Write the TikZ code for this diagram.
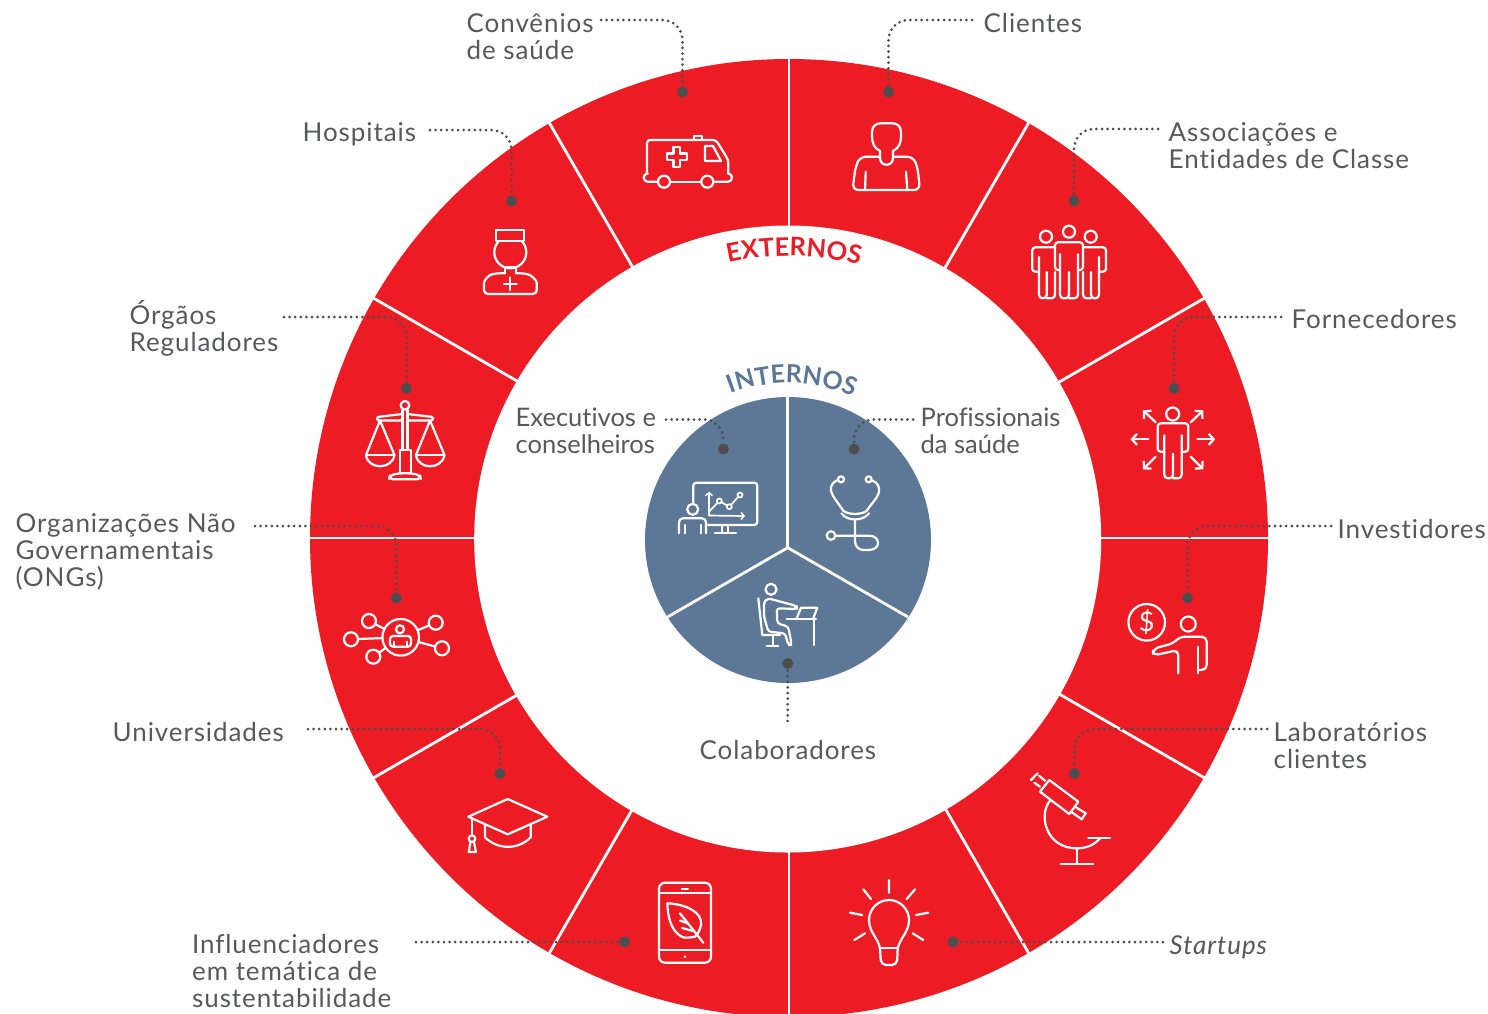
\documentclass[tikz,border=0pt]{standalone}
\usepackage{fontspec}
\setmainfont{Lato}[LetterSpace=3.5,Ligatures={NoCommon}]
\newfontfamily\tightfont{Lato}[Ligatures={NoCommon}]
\newfontfamily\curvefont{Lato}[LetterSpace=3]
\usetikzlibrary{arrows.meta,decorations.text}
\definecolor{ringred}{HTML}{ED1C24}
\definecolor{innerblue}{HTML}{5D7896}
\definecolor{labelgray}{HTML}{58595B}
\definecolor{dotgray}{HTML}{4D4D4F}
\tikzset{
  ico/.style={draw=white,line width=2.2pt,line join=round,line cap=round},
  icr/.style={ico,fill=ringred},
  icb/.style={ico,fill=innerblue},
  spoke/.style={draw=white,line width=2.8pt},
  lab/.style={anchor=base west,inner sep=0pt,align=left,text=labelgray,font=\fontsize{26}{26.8}\selectfont},
  labt/.style={lab,font=\tightfont\fontsize{25.5}{26.8}\selectfont},
  enddot/.style={circle,fill=dotgray,minimum size=11pt,inner sep=0pt},
  conn/.style={draw=dotgray,line width=3pt,line cap=round,dash pattern=on 0pt off 5.6pt,rounded corners=20pt},
  arw/.style={ico,-{Straight Barb[length=5pt,width=11pt,line width=2.2pt]}}
}
% person: cx, top, half width, leg half width, arm bottom, leg bottom
\newcommand\personshape[6]{
  \draw[ico,rounded corners=3pt] ({#1-#4},{#5}) -- ({#1-#3},{#5}) -- ({#1-#3},{#2}) -- ({#1+#3},{#2}) -- ({#1+#3},{#5}) -- ({#1+#4},{#5});
  \draw[ico,rounded corners=3.5pt] ({#1-#4},{#2+12}) -- ({#1-#4},{#6}) -- (#1,{#6}) -- (#1,{#5+2});
  \draw[ico,rounded corners=3.5pt] ({#1+#4},{#2+12}) -- ({#1+#4},{#6}) -- (#1,{#6});
}
\begin{document}
\begin{tikzpicture}[x=1pt,y=-1pt]
\clip (0,0) rectangle (1488,1013);
\fill[white] (0,0) rectangle (1488,1013);
% ring
\fill[ringred] (789,538) circle[radius=479pt];
\fill[white] (787.7,539) circle[radius=313.5pt];
\foreach \a in {0,30,...,330}
  \draw[spoke] ({789+310*cos(\a)},{538-310*sin(\a)}) -- ({789+481*cos(\a)},{538-481*sin(\a)});
% inner disc
\fill[innerblue] (788,540) circle[radius=143pt];
\draw[spoke] (787.7,547.7) -- (787.7,395.5);
\draw[spoke] (787.7,547.7) -- (667.5,617);
\draw[spoke] (787.7,547.7) -- (908,617);
% curved titles
\path[decorate,decoration={text along path,text align=center,text={|\curvefont\bfseries\fontsize{25.5}{26}\selectfont\color{ringred}|EXTERNOS}}]
  plot[domain=115:63,samples=30,smooth] ({789+282*cos(\x)},{538-282*sin(\x)});
\path[decorate,decoration={text along path,text align=center,text={|\curvefont\bfseries\fontsize{25}{26}\selectfont\color{innerblue}|INTERNOS}}]
  plot[domain=135:42,samples=30,smooth] ({788+157*cos(\x)},{540-157*sin(\x)});
% labels (anchored at the baseline of the last line)
\node[lab] (convenios) at (466.5,59) {Convênios\\de saúde};
\node[lab] (clientes) at (983.5,32) {Clientes};
\node[lab] (hospitais) at (302.5,141) {Hospitais};
\node[lab] (associacoes) at (1168.5,168) {Associações e\\Entidades de Classe};
\node[lab] (orgaos) at (129.5,351) {Órgãos\\Reguladores};
\node[lab] (fornecedores) at (1291.5,328) {Fornecedores};
\node[lab] (ongs) at (15.5,586) {Organizações Não\\Governamentais\\(ONGs)};
\node[lab] (investidores) at (1337.5,538) {Investidores};
\node[lab] (universidades) at (112.5,741) {Universidades};
\node[lab] (laboratorios) at (1273.5,768) {Laboratórios\\clientes};
\node[lab] (influenciadores) at (192,1007) {Influenciadores\\em temática de\\sustentabilidade};
\node[lab] (startups) at (1169.5,954) {\itshape Startups};
\node[lab] (colaboradores) at (699.5,759) {Colaboradores};
\node[labt] (executivos) at (515.5,453) {Executivos e\\conselheiros};
\node[labt] (profissionais) at (920.5,453) {Profissionais\\da saúde};
% dots
\node[enddot] (d1) at (682.5,92) {};
\node[enddot] (d2) at (888.5,92) {};
\node[enddot] (d3) at (511.5,201) {};
\node[enddot] (d4) at (1074,201) {};
\node[enddot] (d5) at (406.5,388.5) {};
\node[enddot] (d6) at (1174,388.5) {};
\node[enddot] (d7) at (396.5,598) {};
\node[enddot] (d8) at (1187.5,598) {};
\node[enddot] (d9) at (500,773.5) {};
\node[enddot] (d10) at (1074.5,773.5) {};
\node[enddot] (d11) at (624.5,942) {};
\node[enddot] (d12) at (953,942) {};
\node[enddot] (d13) at (723.5,449) {};
\node[enddot] (d14) at (854,449) {};
\node[enddot] (d15) at (787.7,663.5) {};
% free ends
\coordinate (c1) at (601,20);
\coordinate (c2) at (972,20);
\coordinate (c3) at (430,130);
\coordinate (c4) at (1158,129);
\coordinate (c5) at (284,317);
\coordinate (c6) at (1281,317);
\coordinate (c7) at (255,526);
\coordinate (c8) at (1331,526);
\coordinate (c9) at (308,729);
\coordinate (c10) at (1267,729);
\coordinate (c11) at (416,942);
\coordinate (c12) at (1163,942);
\coordinate (c13) at (666,419.5);
\coordinate (c14) at (913,419.5);
\coordinate (c15) at (787.7,721);
\foreach \i in {1,...,10} \draw[conn] (c\i) -| (d\i);
\draw[conn] (c11) -- (d11);
\draw[conn] (c12) -- (d12);
\draw[conn] (c13) -| (d13);
\draw[conn] (c14) -| (d14);
\draw[conn] (c15) -- (d15);
% --- ambulance
\draw[ico,rounded corners=3pt] (647,173.5) -- (647,140) -- (716,140) -- (728.3,160) -- (728.3,173.5);
\draw[ico,rounded corners=4pt] (658,181.7) -- (643.7,181.7) -- (643.7,173.5) -- (647,173.5);
\draw[ico,rounded corners=4pt] (670,181.7) -- (701.3,181.7);
\draw[ico,rounded corners=4pt] (713.3,181.7) -- (732,181.7) -- (732,173.5) -- (728.3,173.5);
\draw[ico] (664,181.7) circle[radius=6pt];
\draw[ico] (707.3,181.7) circle[radius=6pt];
\draw[ico] (694,140) -- (694,136) -- (702,136) -- (702,140);
\draw[ico] (705,146) -- (713,146) -- (721,161) -- (705,161) -- cycle;
\draw[ico] (673.4,146.7) -- (680,146.7) -- (680,153.4) -- (686.7,153.4) -- (686.7,160) -- (680,160) -- (680,166.7) -- (673.4,166.7) -- (673.4,160) -- (666.7,160) -- (666.7,153.4) -- (673.4,153.4) -- cycle;
% --- client
\draw[ico] (880,151) .. controls (874,148) and (872,143) .. (872,136) -- (872,132) .. controls (872,126) and (876,123.3) .. (881,123.3) -- (892,123.3) .. controls (897,123.3) and (901,126) .. (901,132) -- (901,136) .. controls (901,143) and (899,148) .. (893,151);
\draw[ico] (880,151) -- (880,158) .. controls (880,167) and (893,167) .. (893,158) -- (893,151);
\draw[ico,rounded corners=6pt] (880,156.7) -- (860,156.7) -- (855.5,167) -- (852.5,190) -- (920,190) -- (917.5,167) -- (913,156.7) -- (893,156.7);
\draw[ico] (865.7,171.7) -- (865,190);
\draw[ico] (906,171.7) -- (907.3,190);
% --- nurse
\draw[ico] (510.3,252.3) circle[radius=16pt];
\draw[icr] (495.7,230) rectangle (524.3,240.7);
\draw[ico] (505,267) -- (505,273.3) (515.7,267) -- (515.7,273.3) (505,267.5) -- (515.7,267.5);
\draw[ico,rounded corners=4pt] (505,273.3) -- (496,273.3) .. controls (489,275) and (484,280) .. (484,287) -- (484,294) -- (536.7,294) -- (536.7,287) .. controls (536.7,280) and (531,275) .. (524,273.3) -- (515.7,273.3);
\draw[ico] (510.3,277.5) -- (510.3,290) (504,284) -- (516.7,284);
% --- scales
\draw[ico] (405,405.3) circle[radius=4.3pt];
\draw[ico] (402.5,410) -- (402.5,450) (407.5,410) -- (407.5,450);
\draw[ico] (400,450) rectangle (410.7,473.3);
\draw[ico,rounded corners=4pt] (399.5,473.3) -- (410.7,473.3) -- (420,475) -- (421,479.3) -- (389,479.3) -- (390,475) -- cycle;
\draw[ico,rounded corners=1.5pt] (402.5,414) -- (377,417) -- (377,420.5) -- (402.5,420.5);
\draw[ico,rounded corners=1.5pt] (407.5,414) -- (433,417) -- (433,420.5) -- (407.5,420.5);
\draw[ico] (380,420.5) -- (366,455) .. controls (368,470) and (392,470) .. (394.5,455) -- (380,420.5);
\draw[ico] (366.5,455) -- (394,455);
\draw[ico] (430,420.5) -- (416,455) .. controls (418,470) and (442,470) .. (444.5,455) -- (430,420.5);
\draw[ico] (416.5,455) -- (444,455);
% --- group of three
\draw[ico] (1069,231.7) circle[radius=6pt];
\draw[ico] (1046,236.7) circle[radius=6pt];
\draw[ico] (1090.7,236.7) circle[radius=6pt];
\draw[ico,rounded corners=3pt] (1055,247.3) -- (1032.3,247.3) -- (1032.3,271.7) -- (1039,271.7);
\draw[ico,rounded corners=3.5pt] (1039,257) -- (1039,298.3) -- (1046.7,298.3) -- (1046.7,272);
\draw[ico,rounded corners=3.5pt] (1055,272) -- (1055,298.3) -- (1046.7,298.3);
\draw[ico,rounded corners=3pt] (1083,247.3) -- (1106,247.3) -- (1106,271.7) -- (1099,271.7);
\draw[ico,rounded corners=3.5pt] (1099,257) -- (1099,298.3) -- (1091,298.3) -- (1091,272);
\draw[ico,rounded corners=3.5pt] (1083,272) -- (1083,298.3) -- (1091,298.3);
\personshape{1069}{242.3}{14}{9}{270}{298.3}
% --- supplier
\draw[ico] (1172.7,414) circle[radius=6.5pt];
\personshape{1173}{423.3}{15.3}{8.7}{451.7}{478.3}
\draw[arw] (1148.3,439.3) -- (1130.5,439.3);
\draw[arw] (1197.3,439.3) -- (1215.2,439.3);
\draw[arw] (1155.7,422.3) -- (1143,410.3);
\draw[arw] (1190.7,422.3) -- (1203.3,410.3);
\draw[arw] (1155.7,456.7) -- (1143,469.3);
\draw[arw] (1190.7,456.7) -- (1203.3,469.3);
% --- investor
\draw[ico] (1146.7,622.3) circle[radius=18.3pt];
\node[inner sep=0pt,text=white,font=\tightfont\fontsize{27}{27}\selectfont] (dollar) at (1146.7,622.3) {\$};
\draw[ico] (1188.3,624) circle[radius=7.5pt];
\draw[ico,rounded corners=5pt] (1178.3,673.3) -- (1178.3,650) -- (1153,655.5) -- (1153,648.8) -- (1173.3,643.3) -- (1180,636.7) -- (1206.7,636.7) -- (1206.7,670) -- (1198.3,670);
\draw[ico] (1198.3,646.7) -- (1198.3,673.3);
% --- microscope
\draw[ico] (1049.3,780) -- (1078.3,801.7) -- (1069.3,814) -- (1040,791.7) -- cycle;
\draw[ico] (1031,780) -- (1037.5,773.3);
\draw[ico] (1039,775.7) -- (1045,780.7) (1034.3,782.7) -- (1040,786.7);
\draw[ico] (1075,806.7) -- (1085.7,813.3) -- (1081.7,819.3) -- (1071,811.7);
\draw[ico] (1050,800.7) .. controls (1038,815) and (1046,848.3) .. (1076.7,848.3) .. controls (1088,848.3) and (1095,844) .. (1100,838.3);
\draw[ico] (1088.3,838) -- (1110,838);
\draw[ico] (1076.7,848.3) -- (1076.7,864);
\draw[ico] (1060.7,864) -- (1093.3,864);
% --- network
\draw[ico] (400.7,637.3) -- (369,621) (400.7,637.3) -- (351,639.3) (400.7,637.3) -- (373.3,656.7) (400.7,637.3) -- (435.7,622.7) (400.7,637.3) -- (442,648.3);
\draw[icr] (400.7,637.3) circle[radius=18.3pt];
\foreach \p/\q in {369/621,351/639.3,373.3/656.7,435.7/622.7,442/648.3}
  \draw[icr] (\p,\q) circle[radius=7pt];
\draw[ico] (400,629.3) circle[radius=4pt];
\draw[ico,rounded corners=3pt] (390,646.7) -- (390,636) -- (411,636) -- (411,646.7) -- cycle;
\draw[ico] (394,641.7) -- (394,646.7) (406.7,641.7) -- (406.7,646.7);
% --- graduate cap
\draw[ico] (468.3,816.7) -- (507.7,799) -- (547.3,816.7) -- (507.7,834.3) -- cycle;
\draw[ico] (485,825) -- (485,837.3) .. controls (498,850) and (518,850) .. (530.7,837.3) -- (530.7,825);
\draw[ico] (472.3,818.3) -- (472.3,835);
\draw[ico] (472,838.7) circle[radius=3.3pt];
\draw[ico] (470.5,842) -- (468.7,852) -- (476,852) -- (474,842);
% --- phone
\draw[ico,rounded corners=6pt] (659,882.7) rectangle (711,962.7);
\draw[ico] (659,893.3) -- (711,893.3) (659,950) -- (711,950);
\draw[ico] (682,888.7) -- (688,888.7);
\fill[white] (685,956.7) circle[radius=1.3pt];
\draw[ico] (667.3,903.3) .. controls (685,904) and (703,912) .. (701,925) .. controls (700,930) and (698,934) .. (695,936.7) .. controls (688,938) and (684,938) .. (681.7,936.7) .. controls (672,931) and (668,920) .. (667.3,903.3);
\draw[ico] (680,913.3) -- (703.3,942.7);
\draw[ico] (680,920.5) -- (688,923.5) (682,928) -- (693,931);
% --- bulb
\draw[ico] (880,948.3) .. controls (878,938) and (869,932) .. (869,920) .. controls (869,909) and (878,900) .. (889,900) .. controls (900,900) and (909,909) .. (909,920) .. controls (909,932) and (900,938) .. (897.7,948.3);
\draw[ico] (880,948.3) -- (897.7,948.3);
\draw[ico,rounded corners=5pt] (880,948.3) -- (881,965) -- (897,965) -- (897.7,948.3);
\draw[ico] (889,880) -- (889,892.7) (863.3,889.3) -- (871,899) (915,889.3) -- (906.7,899) (850,912.7) -- (862.3,915) (928.3,912.7) -- (916,915) (854.3,940) -- (865,933.3) (923.3,940) -- (912.7,933.3);
% --- executive
\draw[ico,rounded corners=3pt] (693.3,503.3) -- (693.3,482.7) -- (757.3,482.7) -- (757.3,525) -- (708.3,525);
\draw[ico,-{Straight Barb[length=3pt,width=7pt,line width=1.5pt]},line width=1.7pt] (709,515) -- (709,491.7);
\draw[ico,-{Straight Barb[length=3pt,width=7pt,line width=1.5pt]},line width=1.7pt] (709,515.5) -- (745,516);
\draw[ico,line width=1.7pt] (709,511.7) -- (719.3,501) -- (729.3,506.7) -- (740,495);
\foreach \p/\q in {719.3/501,729.3/506.7,740/495}
  \draw[icb,line width=1.7pt] (\p,\q) circle[radius=2.5pt];
\draw[ico] (721.7,525) -- (721.7,532.7) (728.3,525) -- (728.3,532.7) (715,532.7) -- (736,532.7);
\draw[ico] (692.7,509.3) circle[radius=5.5pt];
\draw[ico,rounded corners=4pt] (679,533.3) -- (679,518.3) -- (706,518.3) -- (706,533.3);
\draw[ico] (685,525) -- (685,533.3) (700.7,525) -- (700.7,533.3);
% --- stethoscope
\draw[ico] (841,479.3) circle[radius=3pt];
\draw[ico] (868.7,479.3) circle[radius=3pt];
\draw[ico] (837.5,480) .. controls (833,482) and (830,486) .. (831,491) .. controls (833,498) and (840,505) .. (843.3,511);
\draw[ico] (872.5,480.7) .. controls (877,482) and (880,487) .. (879,492) .. controls (877,499) and (870,505) .. (866.7,511);
\draw[ico] (843.3,510.7) .. controls (848,515) and (862,515) .. (866.7,510.7);
\draw[ico] (841.5,513.3) .. controls (847,521.5) and (863,521.5) .. (869,513.3);
\draw[ico] (855,520) -- (855,541) .. controls (855,547) and (859,550) .. (864,550) -- (869,550) .. controls (881,550) and (881,535.7) .. (869,535.7) -- (835.5,535.7);
\draw[ico] (831,535.5) circle[radius=4.3pt];
% --- worker
\draw[ico] (771,589.3) circle[radius=5.5pt];
\draw[ico] (758.3,598.3) -- (762.3,635) -- (780,635);
\draw[ico] (772.7,635) -- (772.7,646) (766.7,646) -- (778.3,646);
\draw[ico,rounded corners=3pt] (768,598.3) -- (796.7,606) -- (796.7,609) -- (776.7,608.3) -- (777.3,623.3) -- (788.3,626.7) -- (791.7,645) -- (788.3,645) -- (785,633.3) -- (768.3,631.7) -- (764,616.7) -- (764,601.7) -- cycle;
\draw[ico] (786.7,619.3) -- (816,619.3) (814,619.3) -- (814,645);
\draw[ico] (796.7,618.3) -- (801,607.7) -- (817.3,607.7) -- (813.3,618.3);
\end{tikzpicture}
\end{document}
